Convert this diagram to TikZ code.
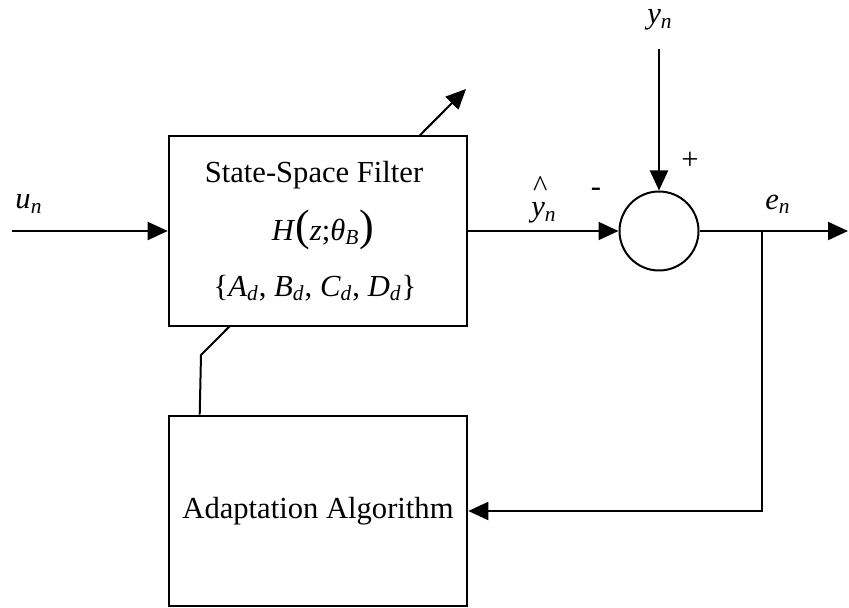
\documentclass[tikz,border=0pt]{standalone}
\usepackage{fontspec}
\setmainfont{Liberation Serif}
\usetikzlibrary{arrows.meta, calc, backgrounds}
\newcommand{\sym}[2]{\textit{#1}\textsubscript{\textit{#2}}}
\newcommand{\hatsym}[2]{\makebox[0pt][l]{\raisebox{0.66em}{\hspace{0.06em}\^{}}}\sym{#1}{#2}}
\newcommand{\bigparen}[1]{{\fontsize{22}{22}\selectfont #1}}
\tikzset{
  every picture/.style={line width=1pt},
  block/.style={draw, line width=1.3pt, fill=white, minimum width=149pt, minimum height=95pt, align=center, inner sep=0pt},
  sumnode/.style={draw, circle, fill=white, minimum size=39.5pt, inner sep=0pt},
  arrow/.style={-{Triangle[length=10pt, width=9pt]}, line width=1pt},
  lbl/.style={inner sep=0pt},
}
\begin{document}
\begin{tikzpicture}[x=0.5pt, y=-0.5pt, font=\fontsize{15.3}{18}\selectfont]
  \useasboundingbox (0,0) rectangle (849,608);
  % blocks
  \node[block] (filter) at (318,231) {};
  \node[lbl] (title) at (314,175) {State-Space Filter};
  \node[lbl] (tf) at (323,230) {\textit{H}\bigparen{(}\textit{z};\textit{θ}\textsubscript{\textit{B}}\bigparen{)}};
  \node[lbl] (mats) at (315,288) {\{\sym{A}{d}, \sym{B}{d}, \sym{C}{d}, \sym{D}{d}\}};
  \node[block] (adapt) at (318,511) {Adaptation Algorithm};
  \node[sumnode] (sum) at (659,231) {};
  % labels
  \node[lbl] (un) at (29,204) {\sym{u}{n}};
  \node[lbl] (yn) at (660,20) {\sym{y}{n}};
  \node[lbl] (yhat) at (544,200) {\hatsym{y}{n}};
  \node[lbl] (en) at (778,204) {\sym{e}{n}};
  \node[lbl] (plus) at (690,161) {+};
  \node[lbl] (minus) at (596,192) {-};
  \coordinate (in) at (12,231);
  \coordinate (yin) at (659,49);
  \coordinate (out) at (848,231);
  \coordinate (branch) at (762,231);
  \coordinate (knee) at (201,355);
  \coordinate (tip) at (466,89);
  % connectors
  \draw[arrow] (in) -- (filter.west);
  \draw[arrow] (filter.east) -- (sum.west);
  \draw[arrow] (yin) -- (sum.north);
  \draw[arrow] (sum.east) -- (out);
  \draw[arrow] (branch) |- (adapt.east);
  % parameter adjustment through the filter
  \begin{scope}[on background layer]
    \draw[arrow] ($(adapt.north west)+(32,0)$) -- (knee) -- (tip);
  \end{scope}
\end{tikzpicture}
\end{document}
